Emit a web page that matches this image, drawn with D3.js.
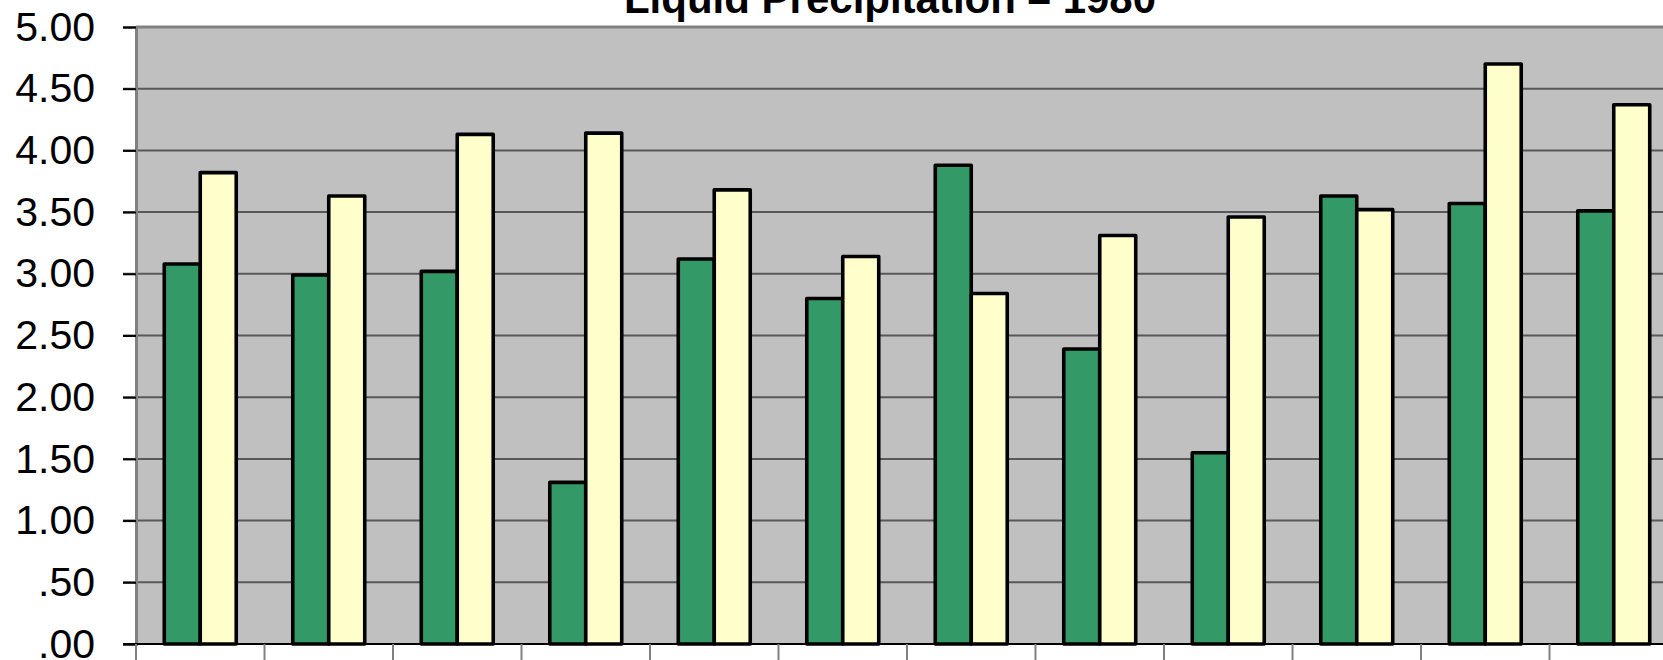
<!DOCTYPE html>
<html>
<head>
<meta charset="utf-8">
<script src="https://cdn.jsdelivr.net/npm/d3@7"></script>
<style>
  body { margin: 0; background: #fff; }
  svg { display: block; font-family: Arial, "Liberation Sans", sans-serif; }
</style>
</head>
<body>
<svg id="chart" width="1663" height="660"></svg>
<script>
// data
const months = ['Jan', 'Feb', 'Mar', 'Apr', 'May', 'Jun', 'Jul', 'Aug', 'Sep', 'Oct', 'Nov', 'Dec'];
const series = ['1980', 'Normal'];
const precip1980 = [3.08, 2.99, 3.02, 1.31, 3.12, 2.80, 3.88, 2.39, 1.55, 3.63, 3.57, 3.51];
const precipNormal = [3.82, 3.63, 4.13, 4.14, 3.68, 3.14, 2.84, 3.31, 3.46, 3.52, 4.70, 4.37];
const yTicks = [0, 0.5, 1, 1.5, 2, 2.5, 3, 3.5, 4, 4.5, 5];
const colors = ['#339966', '#ffffcc'];

// layout (the plot runs past the right edge of the page, like the original)
let margin = {top: 27, left: 136, bottom: 16};
let width = 1663, height = 660;
let plotRight = 1678, plotBottom = height - margin.bottom;

const svg = d3.select('#chart');

const xCat = d3.scaleBand().domain(months).range([margin.left, plotRight]).padding(0);
const x0 = d3.scaleBand().domain(months).range([margin.left, plotRight])
    .paddingInner(0.44).paddingOuter(0.22);
const x1 = d3.scaleBand().domain(series).range([0, x0.bandwidth()]);
const y = d3.scaleLinear().domain([0, 5]).range([plotBottom, margin.top]);

const fmt = d => d < 1 ? d3.format('.2f')(d).replace(/^0/, '') : d3.format('.2f')(d);

// plot background
svg.append('rect')
    .attr('x', margin.left).attr('y', margin.top)
    .attr('width', plotRight - margin.left).attr('height', plotBottom - margin.top)
    .attr('fill', '#c0c0c0');

// gridlines
svg.append('g')
    .selectAll('line')
    .data(yTicks.filter(d => d > 0 && d < 5))
    .join('line')
    .attr('x1', margin.left - 13).attr('x2', plotRight)
    .attr('y1', d => y(d)).attr('y2', d => y(d))
    .attr('stroke', '#585858').attr('stroke-width', 2);

// top border
svg.append('line')
    .attr('x1', margin.left).attr('x2', plotRight)
    .attr('y1', margin.top).attr('y2', margin.top)
    .attr('stroke', '#808080').attr('stroke-width', 3);

// y axis
let yAxis = svg.append('g')
    .attr('transform', 'translate(' + margin.left + ',0)')
    .call(d3.axisLeft(y).tickValues(yTicks).tickFormat(fmt).tickSize(13).tickPadding(28));
yAxis.select('.domain').attr('stroke', '#808080').attr('stroke-width', 3);
yAxis.selectAll('.tick line').attr('stroke', '#000').attr('stroke-width', 2);
yAxis.selectAll('.tick text')
    .attr('font-size', 41).attr('fill', '#000')
    .attr('font-family', 'Arial, "Liberation Sans", sans-serif');

// x axis ticks at category boundaries
let xAxis = svg.append('g');
xAxis.append('line')
    .attr('x1', margin.left - 13).attr('x2', plotRight)
    .attr('y1', plotBottom).attr('y2', plotBottom)
    .attr('stroke', '#000').attr('stroke-width', 2);
xAxis.selectAll('line.tick')
    .data(months)
    .join('line')
    .attr('class', 'tick')
    .attr('x1', d => xCat(d)).attr('x2', d => xCat(d))
    .attr('y1', plotBottom).attr('y2', height)
    .attr('stroke', '#808080').attr('stroke-width', 2);

// bars
let rows = months.map((m, i) => ({month: m, values: [precip1980[i], precipNormal[i]]}));
let groups = svg.append('g').selectAll('g.bar')
    .data(rows)
    .join('g')
    .attr('class', 'bar')
    .attr('transform', d => 'translate(' + x0(d.month) + ',0)');

groups.selectAll('rect')
    .data(d => d.values.map((v, j) => ({key: series[j], value: v, idx: j})))
    .join('rect')
    .attr('x', d => x1(d.key))
    .attr('y', d => y(d.value))
    .attr('width', x1.bandwidth())
    .attr('height', d => y(0) - y(d.value))
    .attr('fill', d => colors[d.idx])
    .attr('stroke', '#000').attr('stroke-width', 3.6)
    .attr('stroke-linejoin', 'round');

// title (cut off at the top, as in the original)
svg.append('text')
    .attr('x', 890).attr('y', 13)
    .attr('text-anchor', 'middle')
    .attr('font-size', 42).attr('font-weight', 'bold')
    .text('Liquid Precipitation \u2013 1980');
</script>
</body>
</html>
